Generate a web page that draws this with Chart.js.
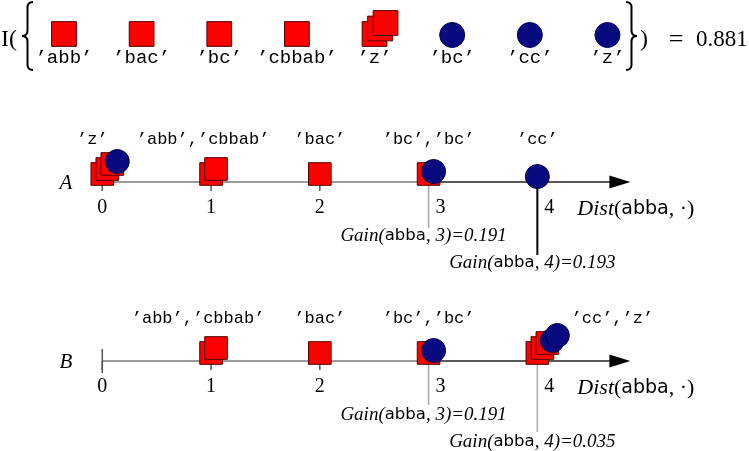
<!DOCTYPE html>
<html>
<head>
<meta charset="utf-8">
<script src="https://cdn.jsdelivr.net/npm/chart.js@4.4.1/dist/chart.umd.min.js"></script>
<style>
  html, body { margin: 0; padding: 0; background: #fff; }
  #wrap { position: relative; width: 749px; height: 451px; }
</style>
</head>
<body>
<div id="wrap"><canvas id="chart"></canvas></div>
<script>
// the labelled set: name, class (pos = red square, neg = blue circle), multiplicity
const setNames = ['abb', 'bac', 'bc', 'cbbab', 'z', 'bc', 'cc', 'z'];
const setClass = ['pos', 'pos', 'pos', 'pos', 'pos', 'neg', 'neg', 'neg'];
const setCount = [1, 1, 1, 1, 3, 1, 1, 1];
const setInfo = 0.881;

// distance of every set item to 'abba', on axis A and on axis B
const distA = [1, 2, 3, 1, 0, 3, 4, 0];
const distB = [1, 2, 3, 1, 4, 3, 4, 4];

const distTicks = [0, 1, 2, 3, 4];

// candidate split points and their gains
const gainAt = [3, 4];
const gainA = [0.191, 0.193];
const gainB = [0.191, 0.035];

// text over each stack
const stackAtA = [0, 1, 2, 3, 4];
const stackTextA = ['’z’', '’abb’,’cbbab’', '’bac’', '’bc’,’bc’', '’cc’'];
const stackAtB = [1, 2, 3, 4];
const stackTextB = ['’abb’,’cbbab’', '’bac’', '’bc’,’bc’', '’cc’,’z’'];

const RED = '#ff0000';
const NAVY = '#0a0a80';
const SERIF = '"Liberation Serif", "DejaVu Serif", serif';
const SANS = '"DejaVu Sans", "Liberation Sans", sans-serif';
const MONO = '"Liberation Mono", "DejaVu Sans Mono", monospace';
const H = 451;

// a hidden vertical axis whose 0 falls on the given pixel row
function rowAxis(px) {
    return { type: 'linear', display: false, min: px / H - 1, max: px / H };
}

function setPoints(cls) {
    const pts = [];
    setNames.forEach((n, i) => {
        if (setClass[i] !== cls) return;
        for (let c = 0; c < setCount[i]; c++) pts.push({ x: i, y: 0, k: c });
    });
    return pts;
}

// squares first, then circles, piled up per distance
function rowPoints(dists) {
    const used = {};
    const out = { pos: [], neg: [] };
    ['pos', 'neg'].forEach(cls => {
        dists.forEach((d, i) => {
            if (setClass[i] !== cls) return;
            for (let c = 0; c < setCount[i]; c++) {
                const k = used[d] || 0;
                used[d] = k + 1;
                out[cls].push({ x: d, y: 0, k: k });
            }
        });
    });
    return out;
}

function squares(data, xId, yId, r, lift, step) {
    return {
        data: data, xAxisID: xId, yAxisID: yId, order: 2,
        pointStyle: 'rect', pointRadius: r, backgroundColor: RED,
        borderColor: '#500000', borderWidth: 1, lift: lift, step: step
    };
}

function circles(data, xId, yId, r, lift, step) {
    return {
        data: data, xAxisID: xId, yAxisID: yId, order: 1,
        pointStyle: 'circle', pointRadius: r, backgroundColor: NAVY,
        borderColor: '#000050', borderWidth: 1, lift: lift, step: step
    };
}

const ptsA = rowPoints(distA);
const ptsB = rowPoints(distB);

const datasets = [
    squares(setPoints('pos'), 'xSet', 'ySet', 17.5, 0, 5.5),
    circles(setPoints('neg'), 'xSet', 'ySet', 12.5, -1, 5.5),
    squares(ptsA.pos, 'xDist', 'yA', 16, 8, 5),
    circles(ptsA.neg, 'xDist', 'yA', 12, 5.5, 5),
    squares(ptsB.pos, 'xDist', 'yB', 16, 8, 5),
    circles(ptsB.neg, 'xDist', 'yB', 12, 5.5, 5)
];

const rows = [
    { name: 'A', y: 'yA', gains: gainA, stackAt: stackAtA, stackText: stackTextA,
      nudge: [-10, -8, 0, 0, 0], startBar: false, gainLen: [46, 73], strong: [false, true] },
    { name: 'B', y: 'yB', gains: gainB, stackAt: stackAtB, stackText: stackTextB,
      nudge: [-13, 0, 0, 75], startBar: true, gainLen: [44, 71], strong: [false, false] }
];

// shift piled marks up and to the right
const pilePlugin = {
    id: 'pile',
    afterDatasetsUpdate(chart) {
        chart.data.datasets.forEach((ds, i) => {
            chart.getDatasetMeta(i).data.forEach((el, j) => {
                const k = ds.data[j].k;
                el.x += k * ds.step;
                el.y -= k * ds.step + ds.lift;
            });
        });
    }
};

function seg(ctx, x1, y1, x2, y2) {
    ctx.beginPath();
    ctx.moveTo(x1, y1);
    ctx.lineTo(x2, y2);
    ctx.stroke();
}

function drawParts(ctx, parts, x, y, align) {
    let w = 0;
    parts.forEach(p => { ctx.font = p[1]; w += ctx.measureText(p[0]).width; });
    let cx = align === 'center' ? x - w / 2 : x;
    ctx.textAlign = 'left';
    parts.forEach(p => {
        ctx.font = p[1];
        ctx.fillText(p[0], cx, y);
        cx += ctx.measureText(p[0]).width;
    });
}

function brace(ctx, tipX, top, bot, w) {
    const mid = (top + bot) / 2;
    const xm = tipX + w / 2, xr = tipX + w;
    const r = Math.abs(w) / 2;
    ctx.beginPath();
    ctx.moveTo(xr, top);
    ctx.quadraticCurveTo(xm, top, xm, top + r);
    ctx.lineTo(xm, mid - r);
    ctx.quadraticCurveTo(xm, mid, tipX, mid);
    ctx.quadraticCurveTo(xm, mid, xm, mid + r);
    ctx.lineTo(xm, bot - r);
    ctx.quadraticCurveTo(xm, bot, xr, bot);
    ctx.stroke();
}

const decorPlugin = {
    id: 'decor',
    beforeDatasetsDraw(chart) {
        const ctx = chart.ctx;
        const xs = chart.scales.xDist;
        ctx.save();
        ctx.lineCap = 'butt';
        rows.forEach(row => {
            const y0 = chart.scales[row.y].getPixelForValue(0);
            const x0 = xs.getPixelForValue(distTicks[0]);
            const xSplit = xs.getPixelForValue(gainAt[0]);
            const xEnd = xs.getPixelForValue(distTicks[distTicks.length - 1]);
            const tip = xEnd + 93;
            ctx.strokeStyle = '#7a7a7a';
            ctx.lineWidth = 1.5;
            seg(ctx, x0, y0, xSplit, y0);
            ctx.strokeStyle = '#222';
            ctx.lineWidth = 1.6;
            seg(ctx, xSplit, y0, tip - 18, y0);
            ctx.fillStyle = '#000';
            ctx.beginPath();
            ctx.moveTo(tip, y0);
            ctx.lineTo(tip - 21, y0 - 6.5);
            ctx.lineTo(tip - 21, y0 + 6.5);
            ctx.closePath();
            ctx.fill();

            ctx.strokeStyle = '#555';
            ctx.lineWidth = 1.5;
            distTicks.forEach(t => {
                if (gainAt.includes(t)) return;
                const x = xs.getPixelForValue(t);
                seg(ctx, x, y0, x, y0 + 9);
            });
            if (row.startBar) seg(ctx, x0, y0 - 12, x0, y0 + 12);

            gainAt.forEach((g, i) => {
                const x = xs.getPixelForValue(g);
                ctx.strokeStyle = row.strong[i] ? '#000' : '#aaa';
                ctx.lineWidth = row.strong[i] ? 2 : 1.6;
                seg(ctx, x, y0, x, y0 + row.gainLen[i]);
            });
        });
        ctx.restore();
    },
    afterDatasetsDraw(chart) {
        const ctx = chart.ctx;
        const xs = chart.scales.xDist;
        const xSet = chart.scales.xSet;
        const ySet = chart.scales.ySet.getPixelForValue(0);
        ctx.save();
        ctx.fillStyle = '#000';
        ctx.textBaseline = 'middle';

        // the set itself
        ctx.font = '24px ' + SERIF;
        ctx.textAlign = 'left';
        ctx.fillText('I(', 1, ySet + 6);
        ctx.strokeStyle = '#000';
        ctx.lineWidth = 2;
        brace(ctx, 22, 2, 70, 11);
        brace(ctx, 637, 2, 70, -11);
        ctx.fillText(')', 640, ySet + 6);
        ctx.textAlign = 'center';
        ctx.font = '26px ' + SERIF;
        ctx.fillText('=', 676, ySet + 6);
        ctx.font = '23px ' + SERIF;
        ctx.textAlign = 'left';
        ctx.fillText(setInfo.toFixed(3), 696, ySet + 6);

        ctx.font = '19px ' + MONO;
        ctx.textAlign = 'center';
        ctx.textBaseline = 'alphabetic';
        setNames.forEach((n, i) => {
            ctx.fillText('’' + n + '’', xSet.getPixelForValue(i), ySet + 29);
        });

        rows.forEach(row => {
            const y0 = chart.scales[row.y].getPixelForValue(0);
            ctx.textBaseline = 'middle';
            ctx.textAlign = 'center';
            ctx.font = 'italic 21px ' + SERIF;
            ctx.fillText(row.name, 66, y0 + 1);

            ctx.font = '20px ' + SERIF;
            distTicks.forEach(t => {
                const x = xs.getPixelForValue(t);
                if (gainAt.includes(t)) {
                    ctx.textAlign = 'left';
                    ctx.fillText(String(t), x + 7, y0 + 26);
                } else {
                    ctx.textAlign = 'center';
                    ctx.fillText(String(t), x, y0 + 26);
                }
            });

            const xEnd = xs.getPixelForValue(distTicks[distTicks.length - 1]);
            drawParts(ctx, [
                ['Dist', 'italic 22px ' + SERIF],
                ['(', '22px ' + SERIF],
                ['abba', '19px ' + SANS],
                [', \u00b7)', '22px ' + SERIF]
            ], xEnd + 40, y0 + 27, 'left');

            gainAt.forEach((g, i) => {
                const x = xs.getPixelForValue(g);
                const yy = y0 + (i === 0 ? 54 : 81);
                drawParts(ctx, [
                    ['Gain(', 'italic 19px ' + SERIF],
                    ['abba', '16.5px ' + SANS],
                    [', ' + g + ')=' + row.gains[i].toFixed(3), 'italic 19px ' + SERIF]
                ], x - 5, yy, 'center');
            });

            ctx.font = '17px ' + MONO;
            ctx.textAlign = 'center';
            ctx.textBaseline = 'alphabetic';
            row.stackText.forEach((txt, i) => {
                const x = xs.getPixelForValue(row.stackAt[i]) + row.nudge[i];
                ctx.fillText(txt, x, y0 - 38);
            });
        });
        ctx.restore();
    }
};

new Chart(document.getElementById('chart'), {
    type: 'scatter',
    data: { datasets: datasets },
    options: {
        responsive: true,
        maintainAspectRatio: false,
        animation: false,
        events: [],
        layout: { padding: 0, autoPadding: false },
        plugins: { legend: { display: false }, tooltip: { enabled: false } },
        scales: {
            xSet: { type: 'linear', display: false, min: -0.824, max: 8.823 },
            xDist: { type: 'linear', display: false, min: -0.9405, max: 5.946 },
            ySet: rowAxis(34),
            yA: rowAxis(182),
            yB: rowAxis(361)
        }
    },
    plugins: [pilePlugin, decorPlugin]
});
</script>
</body>
</html>
